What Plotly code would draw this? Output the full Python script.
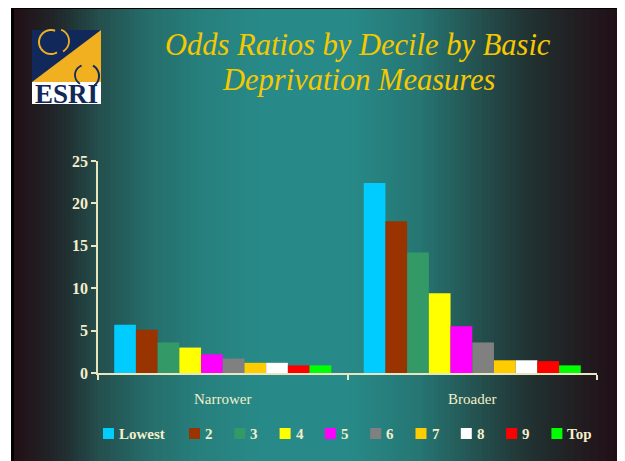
import numpy as np
import plotly.graph_objects as go

# data
measures = ["Narrower", "Broader"]
deciles = ["Lowest", "2", "3", "4", "5", "6", "7", "8", "9", "Top"]
narrower = [5.7, 5.1, 3.6, 3.0, 2.2, 1.7, 1.2, 1.2, 0.9, 0.9]
broader = [22.4, 17.9, 14.2, 9.4, 5.5, 3.6, 1.5, 1.5, 1.4, 0.9]
bar_colors = ["#00ccff", "#993300", "#339966", "#ffff00", "#ff00ff",
              "#808080", "#ffcc00", "#ffffff", "#ff0000", "#00ff00"]
y_ticks = [0, 5, 10, 15, 20, 25]

# the page body has an 8px margin, so the figure starts at (8, 8)
OFF = 8
W, H = 625 - OFF, 461 - OFF
PL, PR, PT, PB = 98, 597, 161, 373   # plot area in window pixels
CREAM = "#f3efcb"
SERIF = "Liberation Serif"


def px(x):
    return (x - PL) / (PR - PL)


def py(y):
    return (PB - y) / (PB - PT)


def rect(x0, y0, x1, y1, color):
    return dict(type="rect", xref="paper", yref="paper", layer="below",
                x0=px(x0), x1=px(x1), y0=py(y1), y1=py(y0),
                fillcolor=color, line=dict(width=0))


def arc(cx, cy, r, a0, a1, color, width=2):
    t = np.radians(np.linspace(a0, a1, 30))
    pts = [(px(cx + r * np.cos(a)), py(cy - r * np.sin(a))) for a in t]
    path = "M " + " L ".join(f"{x:.5f},{y:.5f}" for x, y in pts)
    return dict(type="path", xref="paper", yref="paper", layer="below",
                path=path, line=dict(color=color, width=width))


fig = go.Figure()
for name, col, a, b in zip(deciles, bar_colors, narrower, broader):
    fig.add_trace(go.Bar(x=measures, y=[a, b], name=name, marker_color=col,
                         marker_line_width=0, showlegend=False))

# slide background: black frame + horizontal gradient
shapes = [rect(11, 6, 623, 475, "#000000")]
stops_x = [14, 60, 100, 150, 200, 260, 350, 420, 480, 530, 570, 620]
stops_c = [(33, 15, 22), (33, 42, 44), (36, 80, 78), (38, 110, 108),
           (39, 128, 125), (40, 138, 136), (40, 138, 136), (38, 118, 115),
           (36, 80, 78), (34, 50, 50), (33, 33, 36), (33, 14, 22)]
edges = np.arange(14, 621, 4)
for x0 in edges[:-1]:
    xm = x0 + 2
    c = [int(np.interp(xm, stops_x, [s[k] for s in stops_c])) for k in range(3)]
    shapes.append(rect(x0, 9, x0 + 4.6, 475, f"rgb({c[0]},{c[1]},{c[2]})"))

# ESRI logo
NAVY, GOLD = "#10285a", "#f0b020"
shapes.append(rect(32, 30, 101, 82, NAVY))
shapes.append(dict(type="path", xref="paper", yref="paper", layer="below",
                   path=f"M {px(32)},{py(82)} L {px(101)},{py(30)} L {px(101)},{py(82)} Z",
                   fillcolor=GOLD, line=dict(width=0)))
shapes.append(rect(32, 82, 101, 104, "#ffffff"))
shapes.append(arc(51, 42, 12, 70, 300, GOLD, 2))
shapes.append(arc(57, 41, 12, -60, 70, GOLD, 1.8))
shapes.append(arc(85, 75, 10, 110, 240, NAVY, 1.8))
shapes.append(arc(87, 76, 12, -70, 60, NAVY, 2))

annotations = [
    dict(text="ESRI", x=px(66.5), y=py(94), xref="paper", yref="paper",
         showarrow=False, xanchor="center", yanchor="middle",
         font=dict(family=SERIF, size=27, color=NAVY, weight="bold")),
]
for text, yc in [("Odds Ratios by Decile by Basic", 45), ("Deprivation Measures", 80)]:
    annotations.append(dict(text=text, x=px(358), y=py(yc), xref="paper", yref="paper",
                            showarrow=False, xanchor="center", yanchor="middle",
                            font=dict(family=SERIF, size=30.5, color="#f5c800",
                                      style="italic")))

# legend drawn by hand
lx = 103
for name, col in zip(deciles, bar_colors):
    shapes.append(dict(type="rect", xref="paper", yref="paper",
                       x0=px(lx), x1=px(lx + 11), y0=py(439), y1=py(428),
                       fillcolor=col, line=dict(width=0)))
    annotations.append(dict(text=name, x=px(lx + 14), y=py(434), xref="paper",
                            yref="paper", showarrow=False, xanchor="left",
                            yanchor="middle",
                            font=dict(family=SERIF, size=15, color=CREAM, weight="bold")))
    lx += 86 if name == "Lowest" else 45.3

fig.update_layout(
    width=W, height=H,
    margin=dict(l=PL - OFF, r=625 - PR, t=PT - OFF, b=461 - PB, pad=0),
    paper_bgcolor="#ffffff",
    plot_bgcolor="rgba(0,0,0,0)",
    barmode="group", bargap=0.13, bargroupgap=0,
    shapes=shapes, annotations=annotations,
    xaxis=dict(showline=True, linecolor="#e8e6c0", linewidth=1.5,
               ticks="outside", tickson="boundaries", ticklen=5,
               tickcolor="#e8e6c0", tickwidth=1.5, showgrid=False,
               ticklabelstandoff=11,
               tickfont=dict(family=SERIF, size=15, color=CREAM)),
    yaxis=dict(range=[0, 25], tickvals=y_ticks, showline=True,
               linecolor="#e8e6c0", linewidth=1.5, ticks="outside",
               ticklen=5, tickcolor="#e8e6c0", tickwidth=1.5,
               showgrid=False, zeroline=False,
               tickfont=dict(family=SERIF, size=16, color=CREAM, weight="bold")),
)

fig.write_html("out.html")
